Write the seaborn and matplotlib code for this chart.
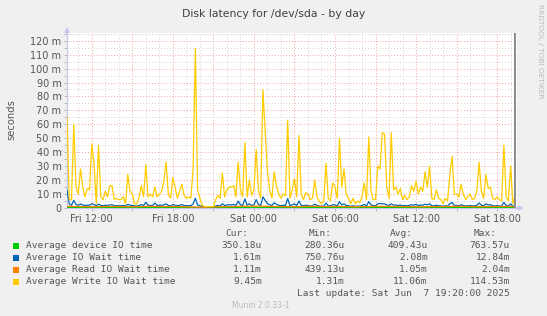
import numpy as np
import pandas as pd
import matplotlib
matplotlib.use("Agg")
import matplotlib.pyplot as plt
import matplotlib.dates as mdates
from matplotlib.ticker import MultipleLocator, FuncFormatter
from matplotlib.patches import Rectangle
import seaborn as sns

# ---------------- data (milliseconds) ----------------
start_time = "2025-06-06 10:10"
end_time = "2025-06-07 19:20"
axis_end = "2025-06-07 19:30"

write_wait = [
    65, 6, 6, 60, 15, 10, 28, 15, 8, 14,
    13, 46, 32, 3, 45, 8, 6, 12, 8, 16,
    16, 6, 7, 6, 6, 8, 3, 24, 12, 10,
    3, 3, 8, 16, 8, 31, 8, 10, 8, 15,
    8, 10, 12, 19, 33, 10, 7, 22, 15, 7,
    12, 17, 9, 7, 8, 7, 28, 114.5, 13, 7,
    2, 1, 1, 1, 1, 1, 6, 9, 7, 25,
    8, 13, 15, 15, 16, 8, 33, 13, 8, 47,
    8, 20, 9, 13, 42, 13, 7, 85, 55, 27,
    13, 7, 26, 16, 10, 7, 10, 9, 63, 7,
    13, 21, 8, 52, 10, 6, 11, 10, 6, 7,
    20, 8, 5, 3, 5, 32, 7, 5, 18, 15,
    7, 50, 15, 28, 10, 7, 3, 7, 3, 5,
    4, 8, 18, 6, 51, 12, 6, 6, 30, 28,
    54, 53, 15, 7, 54, 13, 15, 10, 14, 6,
    9, 6, 8, 16, 12, 19, 10, 15, 12, 26,
    15, 30, 7, 6, 13, 7, 6, 3, 7, 5,
    24, 37, 10, 10, 8, 17, 10, 6, 8, 10,
    6, 7, 12, 33, 12, 7, 24, 14, 15, 7,
    6, 8, 6, 5, 45, 8, 5, 30, 3, 9.45,
]

io_wait = [
    12.8, 3.0, 2.0, 5.5, 2.5, 2.0, 2.8, 2.2, 1.8, 2.0,
    2.0, 3.0, 2.6, 1.6, 2.8, 1.8, 1.6, 2.0, 1.8, 2.2,
    2.4, 1.6, 1.7, 1.6, 1.6, 1.8, 1.4, 2.6, 2.0, 1.8,
    1.5, 1.4, 1.8, 2.4, 1.8, 4.0, 2.0, 1.8, 1.8, 3.6,
    1.8, 2.0, 2.0, 2.2, 3.0, 1.8, 1.6, 2.4, 2.0, 1.6,
    2.0, 2.4, 1.8, 1.6, 1.7, 1.6, 3.0, 7.0, 2.2, 1.6,
    1.2, 1.0, 0.9, 0.9, 0.8, 0.9, 1.4, 1.8, 1.5, 3.0,
    1.8, 2.2, 2.4, 2.2, 2.6, 1.8, 5.0, 2.4, 1.8, 6.5,
    2.0, 3.0, 1.8, 2.4, 6.0, 2.6, 1.8, 8.0, 5.5, 3.2,
    2.4, 1.8, 3.8, 2.6, 2.0, 1.6, 2.0, 1.8, 6.8, 1.8,
    2.2, 3.0, 1.8, 5.0, 2.0, 1.6, 2.0, 1.8, 1.5, 1.6,
    2.8, 1.8, 1.4, 1.2, 1.4, 3.5, 1.6, 1.4, 2.4, 2.2,
    1.6, 4.5, 2.2, 3.0, 1.8, 1.6, 1.2, 1.6, 1.2, 1.4,
    1.3, 1.8, 2.6, 1.6, 4.5, 2.2, 1.8, 1.6, 3.0, 3.2,
    3.0, 3.0, 2.2, 1.8, 3.0, 2.0, 2.2, 1.8, 2.2, 1.6,
    1.8, 1.6, 1.8, 2.4, 2.0, 2.6, 1.8, 2.2, 2.0, 2.8,
    2.2, 3.0, 1.6, 1.5, 2.0, 1.6, 1.5, 1.2, 1.6, 1.4,
    3.0, 4.0, 1.8, 1.8, 1.6, 2.4, 1.8, 1.5, 1.6, 1.8,
    1.5, 1.6, 2.0, 3.6, 2.0, 1.6, 3.0, 2.2, 2.4, 1.6,
    1.5, 1.7, 1.5, 1.4, 4.0, 1.8, 1.4, 3.0, 1.2, 1.61,
]

read_wait = [1.2, 1.0, 0.9, 1.1, 1.0, 0.9, 1.2, 1.0, 1.1, 0.8,
             0.6, 0.9, 1.0, 1.2, 1.4, 1.1, 1.0, 0.9, 1.3, 1.0,
             1.1, 0.9, 1.0, 1.2, 1.1, 1.0, 0.9, 1.0, 1.1, 1.2,
             1.0, 1.0, 1.1, 1.11]
device_time = [0.45, 0.40, 0.38, 0.42, 0.40, 0.36, 0.42, 0.40, 0.40, 0.32,
               0.30, 0.38, 0.42, 0.45, 0.48, 0.44, 0.42, 0.40, 0.44, 0.42,
               0.40, 0.38, 0.40, 0.42, 0.40, 0.40, 0.38, 0.40, 0.42, 0.40,
               0.38, 0.36, 0.38, 0.35]

series_names = ["Average device IO time", "Average IO Wait time",
                "Average Read IO Wait time", "Average Write IO Wait time"]
series_colors = ["#00CC00", "#0066B3", "#FF8000", "#FFCC00"]
stat_cur = ["350.18u", "1.61m", "1.11m", "9.45m"]
stat_min = ["280.36u", "750.76u", "439.13u", "1.31m"]
stat_avg = ["409.43u", "2.08m", "1.05m", "11.06m"]
stat_max = ["763.57u", "12.84m", "2.04m", "114.53m"]
x_ticks = ["2025-06-06 12:00", "2025-06-06 18:00", "2025-06-07 00:00",
           "2025-06-07 06:00", "2025-06-07 12:00", "2025-06-07 18:00"]
title = "Disk latency for /dev/sda - by day"
last_update = "Last update: Sat Jun  7 19:20:00 2025"

# ---------------- frames ----------------
fine_t = pd.date_range(start_time, end_time, periods=len(write_wait))
coarse_t = pd.date_range(start_time, end_time, periods=len(read_wait))
df_fine = pd.DataFrame({"t": fine_t, "write": write_wait, "io": io_wait})
df_coarse = pd.DataFrame({"t": coarse_t, "read": read_wait, "dev": device_time})

W, H = 547, 316
fig = plt.figure(figsize=(W / 100, H / 100), dpi=100, facecolor="#F0F0F0")
L, R, T, B = 67, 517.4, 33, 208
ax = fig.add_axes([L / W, 1 - B / H, (R - L) / W, (B - T) / H])
ax.set_facecolor("white")

lw = 0.9
sns.lineplot(data=df_coarse, x="t", y="dev", ax=ax, color=series_colors[0], lw=lw, zorder=3)
sns.lineplot(data=df_fine, x="t", y="io", ax=ax, color=series_colors[1], lw=lw, zorder=4)
sns.lineplot(data=df_coarse, x="t", y="read", ax=ax, color=series_colors[2], lw=lw, zorder=5)
sns.lineplot(data=df_fine, x="t", y="write", ax=ax, color=series_colors[3], lw=lw, zorder=6)

t0 = pd.Timestamp(start_time)
t1 = pd.Timestamp(end_time)
ax.set_xlim(t0, pd.Timestamp(axis_end))
ax.set_ylim(0, 125.5)
ax.axvline(t1, color="#8C8C8C", lw=1.4, zorder=7)

# grids
ax.yaxis.set_major_locator(MultipleLocator(10))
ax.yaxis.set_minor_locator(MultipleLocator(5))
ax.xaxis.set_major_locator(mdates.HourLocator(byhour=range(0, 24, 3)))
ax.xaxis.set_minor_locator(mdates.HourLocator())
ax.grid(which="minor", color="#D4D4D4", lw=0.7, ls=(0, (1, 2)), zorder=1)
ax.grid(which="major", color="#F4A0A0", lw=0.7, ls=(0, (1, 2)), zorder=2)
ax.axhline(125, color="#D4D4D4", lw=0.7, ls=(0, (1, 2)), zorder=1)

tick_set = set(pd.to_datetime(x_ticks))


def xfmt(v, pos):
    d = mdates.num2date(v).replace(tzinfo=None)
    d = pd.Timestamp(d).round("min")
    return d.strftime("%a %H:%M") if d in tick_set else ""


ax.xaxis.set_major_formatter(FuncFormatter(xfmt))
ax.yaxis.set_major_formatter(FuncFormatter(lambda v, p: "0" if v == 0 else f"{v:.0f} m"))
ax.tick_params(which="both", length=2, width=0.6, color="#B0B0B0",
               labelsize=7, labelcolor="#555555", pad=2)
ax.tick_params(axis="x", which="minor", length=0)
for s in ["top", "right"]:
    ax.spines[s].set_visible(False)
for s in ["left", "bottom"]:
    ax.spines[s].set_color("#C8C8EC")
    ax.spines[s].set_linewidth(0.9)
ax.set_xlabel("")
ax.set_ylabel("")

# axis arrows
ax.annotate("", xy=(0, 1.05), xytext=(0, 0.98), xycoords="axes fraction",
            arrowprops=dict(arrowstyle="-|>", color="#C8C8EC", lw=0.9,
                            mutation_scale=7), annotation_clip=False)
ax.annotate("", xy=(1.02, 0), xytext=(0.99, 0), xycoords="axes fraction",
            arrowprops=dict(arrowstyle="-|>", color="#C8C8EC", lw=0.9,
                            mutation_scale=7), annotation_clip=False)

# texts
fx = lambda x: x / W
fy = lambda y: 1 - y / H
fig.text(0.5, fy(14), title, ha="center", va="center", fontsize=7.8, color="#404040")
fig.text(fx(11), fy(120), "seconds", rotation=90, ha="center", va="center",
         fontsize=7.2, color="#555555")
fig.text(fx(540), fy(4), "RRDTOOL / TOBI OETIKER", rotation=270, ha="center", va="top",
         fontsize=5.3, color="#BBBBBB")

mono = dict(family="DejaVu Sans Mono", fontsize=6.8, color="#555555", va="center")
hdr_y = 233
for txt, xr in zip(["Cur:", "Min:", "Avg:", "Max:"], [248, 331.7, 413, 496.7]):
    fig.text(fx(xr), fy(hdr_y), txt, ha="right", **mono)
row_y = [245.7, 257.7, 269.7, 281.7]
for i, name in enumerate(series_names):
    y = row_y[i]
    fig.add_artist(Rectangle((fx(13.3), fy(y + 3)), 6 / W, 6 / H,
                             transform=fig.transFigure, facecolor=series_colors[i],
                             edgecolor="none"))
    fig.text(fx(25.7), fy(y), name, ha="left", **mono)
    for vals, xr in zip([stat_cur, stat_min, stat_avg, stat_max], [261.7, 345, 427.7, 510]):
        fig.text(fx(xr), fy(y), vals[i], ha="right", **mono)
fig.text(fx(510), fy(293.7), last_update, ha="right", **mono)
fig.text(fx(261), fy(305.7), "Munin 2.0.33-1", ha="center", va="center",
         fontsize=5.5, color="#BBBBBB")

fig.savefig("out.png", dpi=100, facecolor=fig.get_facecolor())
